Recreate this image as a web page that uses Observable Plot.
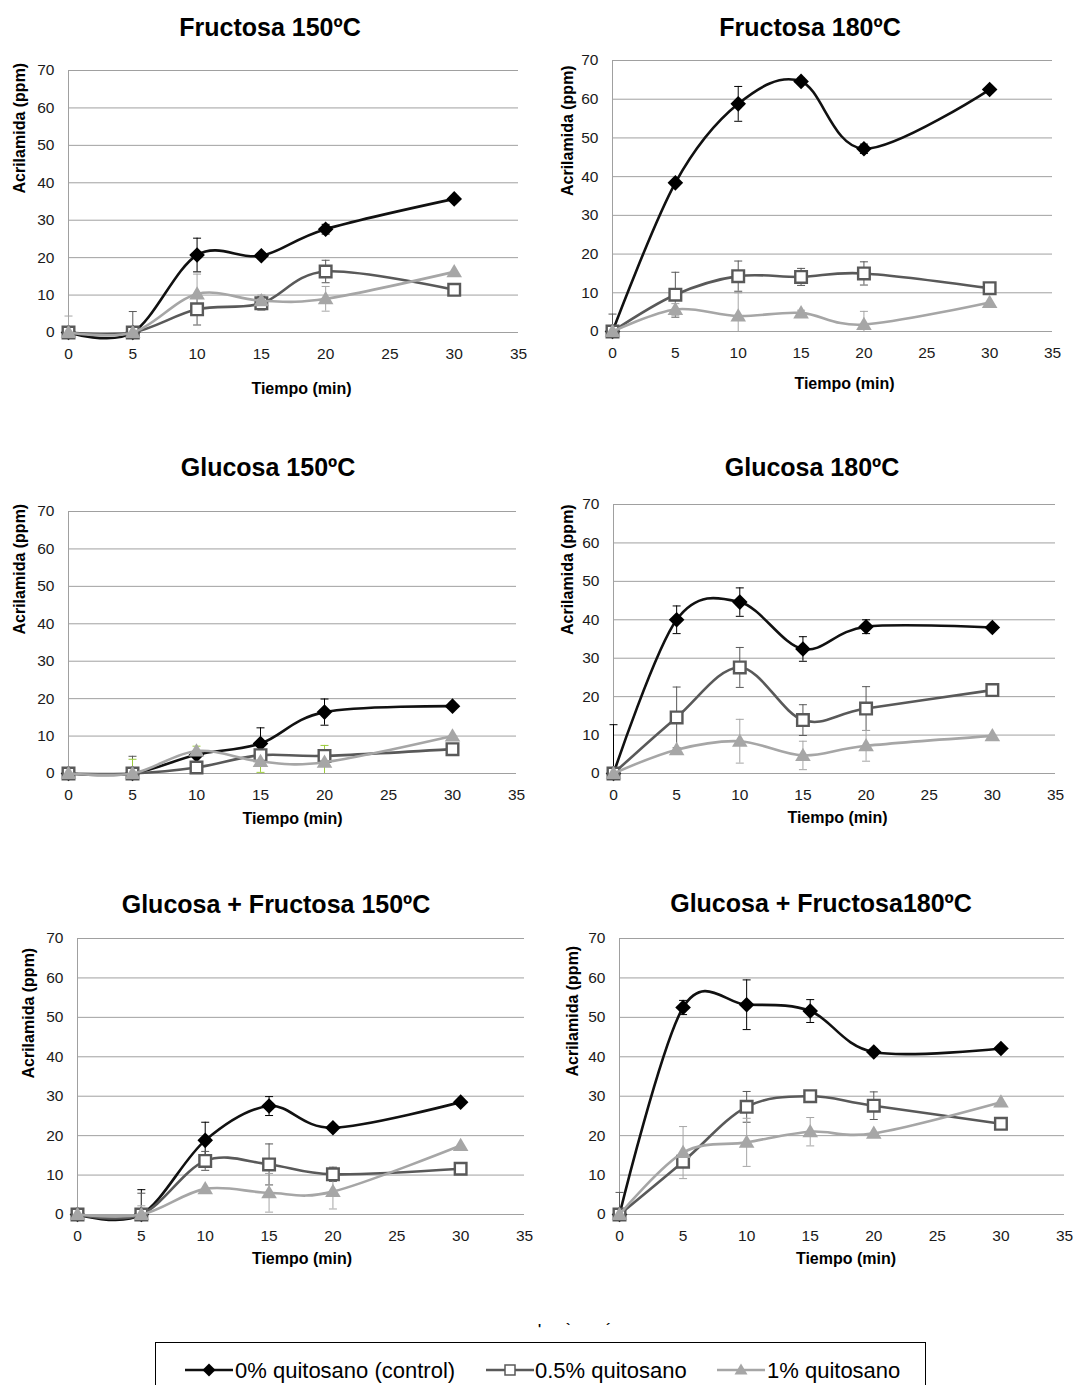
<!DOCTYPE html>
<html><head><meta charset="utf-8">
<script src="https://cdn.jsdelivr.net/npm/d3@7"></script>
<script src="https://cdn.jsdelivr.net/npm/@observablehq/plot@0.6"></script>
<style>
body{margin:0;background:#fff;overflow:hidden}
#root{position:relative;width:1078px;height:1385px;overflow:hidden;font-family:"Liberation Sans",Arial,sans-serif;background:#fff}
.title{position:absolute;width:500px;text-align:center;font-weight:bold;font-size:25px;line-height:30px;color:#000;white-space:nowrap}
.legend{position:absolute;left:155px;top:1342px;width:771px;height:60px;border:1px solid #000;box-sizing:border-box}
.legend .lt{position:absolute;top:15px;font-size:22px;line-height:26px;color:#000;white-space:nowrap}
.legend svg{position:absolute;top:17px}
.frag{position:absolute;top:1321px;font-size:13px;font-weight:bold;color:#000}
</style></head><body><div id="root"></div>
<script>
// ---------- data ----------
const times = [0, 5, 10, 15, 20, 30];
const xTicks = [0, 5, 10, 15, 20, 25, 30, 35];
const yTicks = [0, 10, 20, 30, 40, 50, 60, 70];
const seriesNames = ["0% quitosano (control)", "0.5% quitosano", "1% quitosano"];
const panelTitles = ["Fructosa 150ºC", "Fructosa 180ºC", "Glucosa 150ºC", "Glucosa 180ºC", "Glucosa + Fructosa 150ºC", "Glucosa + Fructosa180ºC"];
const xTitle = "Tiempo (min)";
const yTitle = "Acrilamida (ppm)";

// Fructosa 150
const fru150_c   = [0, 0, 20.7, 20.5, 27.6, 35.7];
const fru150_q05 = [0, 0, 6.2, 7.8, 16.3, 11.4];
const fru150_q1  = [0, 0, 10.3, 8.5, 9.0, 16.2];
const fru150_ec  = [0, 0, 4.5, 0.8, 1.3, 0];
const fru150_e05 = [0, 5.6, 4.2, 1.8, 3.0, 0];
const fru150_e1  = [4.4, 0, 5.3, 1.5, 3.3, 0];
// Fructosa 180
const fru180_c   = [0, 38.4, 58.8, 64.6, 47.2, 62.5];
const fru180_q05 = [0, 9.5, 14.3, 14.1, 15.0, 11.2];
const fru180_q1  = [0, 5.7, 4.0, 4.8, 1.8, 7.5];
const fru180_ec  = [0, 0, 4.5, 0.8, 1.2, 0];
const fru180_e05 = [4.5, 5.8, 3.9, 2.2, 3.0, 0];
const fru180_e1  = [0, 1.5, 6.0, 0.7, 3.4, 0];
// Glucosa 150
const glu150_c   = [0, 0, 5.0, 8.0, 16.4, 18.0];
const glu150_q05 = [0, 0, 1.6, 4.9, 4.7, 6.5];
const glu150_q1  = [0, 0, 6.0, 3.2, 3.0, 10.0];
const glu150_ec  = [0, 0, 0, 4.2, 3.5, 0];
const glu150_e05 = [0, 4.6, 0, 0, 0, 0];
const glu150_e1  = [0, 3.8, 1.3, 2.9, 4.5, 0];
// Glucosa 180
const glu180_c   = [0, 40.0, 44.6, 32.4, 38.2, 38.0];
const glu180_q05 = [0, 14.6, 27.6, 13.9, 16.9, 21.7];
const glu180_q1  = [0, 6.2, 8.4, 4.7, 7.2, 9.8];
const glu180_ec  = [12.7, 3.6, 3.7, 3.2, 1.8, 0];
const glu180_e05 = [0, 7.9, 5.2, 4.0, 5.7, 0];
const glu180_e1  = [0, 0, 5.7, 3.7, 4.0, 0];
// Glucosa + Fructosa 150
const gf150_c   = [0, 0, 18.8, 27.5, 22.0, 28.5];
const gf150_q05 = [0, 0, 13.6, 12.7, 10.2, 11.6];
const gf150_q1  = [0, 0, 6.5, 5.5, 5.8, 17.5];
const gf150_ec  = [0, 6.3, 4.6, 2.4, 0, 0];
const gf150_e05 = [0, 5.4, 2.4, 5.2, 1.8, 0];
const gf150_e1  = [0, 2.2, 0, 4.9, 4.4, 0];
// Glucosa + Fructosa 180
const gf180_c   = [0, 52.5, 53.2, 51.6, 41.2, 42.1];
const gf180_q05 = [0, 13.4, 27.3, 30.0, 27.6, 23.0];
const gf180_q1  = [0, 15.7, 18.3, 21.0, 20.6, 28.5];
const gf180_ec  = [0, 1.8, 6.3, 2.9, 0.8, 0];
const gf180_e05 = [5.6, 0, 3.9, 0, 3.5, 0];
const gf180_e1  = [0, 6.6, 6.1, 3.6, 0, 0];

const panelData = [
  [fru150_c, fru150_q05, fru150_q1, fru150_ec, fru150_e05, fru150_e1],
  [fru180_c, fru180_q05, fru180_q1, fru180_ec, fru180_e05, fru180_e1],
  [glu150_c, glu150_q05, glu150_q1, glu150_ec, glu150_e05, glu150_e1],
  [glu180_c, glu180_q05, glu180_q1, glu180_ec, glu180_e05, glu180_e1],
  [gf150_c, gf150_q05, gf150_q1, gf150_ec, gf150_e05, gf150_e1],
  [gf180_c, gf180_q05, gf180_q1, gf180_ec, gf180_e05, gf180_e1]
];

// ---------- layout (positions only) ----------
const layout = [
  {L:68,  R:518,  T:70,  B:332,  tx:270, ty:27,  ydx:-49, ydy:-8, xdx:8,  xdy:61},
  {L:612, R:1052, T:60,  B:331,  tx:810, ty:27,  ydx:-45, ydy:0,  xdx:12, xdy:57},
  {L:68,  R:516,  T:511, B:773,  tx:268, ty:467, ydx:-49, ydy:-8, xdx:0,  xdy:50},
  {L:613, R:1055, T:504, B:773,  tx:812, ty:467, ydx:-46, ydy:-4, xdx:3,  xdy:49},
  {L:77,  R:524,  T:938, B:1214, tx:276, ty:904, ydx:-49, ydy:2,  xdx:1,  xdy:49},
  {L:619, R:1064, T:938, B:1214, tx:821, ty:903, ydx:-47, ydy:0,  xdx:4,  xdy:49}
];

// ---------- symbols ----------
const diamond = {draw(ctx, size){const r=Math.sqrt(size/Math.PI);ctx.moveTo(0,-r);ctx.lineTo(r,0);ctx.lineTo(0,r);ctx.lineTo(-r,0);ctx.closePath();}};
const square = {draw(ctx, size){const r=Math.sqrt(size/Math.PI);ctx.moveTo(-r,-r);ctx.lineTo(r,-r);ctx.lineTo(r,r);ctx.lineTo(-r,r);ctx.closePath();}};
const triangle = {draw(ctx, size){const r=Math.sqrt(size/Math.PI);ctx.moveTo(0,-r);ctx.lineTo(r,r*0.7);ctx.lineTo(-r,r*0.7);ctx.closePath();}};
const cap = {draw(ctx, size){const r=Math.sqrt(size/Math.PI);ctx.moveTo(-r,0);ctx.lineTo(r,0);}};

const styles = [
  {line:"#111111", sym:diamond, r:7.8, fill:"#000000", stroke:"none", sw:0, err:"#000000"},
  {line:"#595959", sym:square, r:5.8, fill:"#ffffff", stroke:"#595959", sw:2.4, err:"#595959"},
  {line:"#a6a6a6", sym:triangle, r:7.8, fill:"#a6a6a6", stroke:"none", sw:0, err:"#a6a6a6"}
];

const root = document.getElementById("root");
const FONT = "'Liberation Sans', Arial, sans-serif";

panelData.forEach((pd, pi) => {
  const g = layout[pi];
  const mL = 80, mR = 24, mT = 12, mB = 76;
  const marks = [
    Plot.ruleY(yTicks, {stroke:"#a0a0a0", strokeWidth:1}),
    Plot.ruleX([0], {stroke:"#a0a0a0", strokeWidth:1}),
    Plot.axisX(xTicks, {tickSize:0, tickPadding:15, label:null, fontSize:15.5, fill:"#1a1a1a"}),
    Plot.axisY(yTicks, {tickSize:0, tickPadding:14, label:null, fontSize:15.5, fill:"#1a1a1a"}),
    Plot.text([xTitle], {text:d=>d, frameAnchor:"bottom", dx:g.xdx, dy:g.xdy, fontWeight:"bold", fontSize:16, fill:"#000"}),
    Plot.text([yTitle], {text:d=>d, frameAnchor:"left", dx:g.ydx, dy:g.ydy, rotate:-90, fontWeight:"bold", fontSize:16, fill:"#000"})
  ];
  // error bars
  for (let s = 0; s < 3; s++) {
    const vals = pd[s], errs = pd[s+3];
    const ec = (pi === 2 && s === 2) ? "#9ccc3c" : styles[s].err;
    const er = times.map((t,i)=>({t, v:vals[i], e:errs[i]})).filter(d=>d.e>0)
      .map(d=>({t:d.t, lo:Math.max(0, d.v-d.e), hi:d.v+d.e}));
    marks.push(Plot.ruleX(er, {x:"t", y1:"lo", y2:"hi", stroke:ec, strokeWidth:1}));
    marks.push(Plot.dot(er, {x:"t", y:"hi", symbol:cap, r:4, stroke:ec, strokeWidth:1, fill:"none"}));
    marks.push(Plot.dot(er.filter(d=>d.lo>0), {x:"t", y:"lo", symbol:cap, r:4, stroke:ec, strokeWidth:1, fill:"none"}));
  }
  // lines + markers
  for (let s = 0; s < 3; s++) {
    const st = styles[s];
    const rows = times.map((t,i)=>({t, v:pd[s][i]}));
    marks.push(Plot.line(rows, {x:"t", y:"v", stroke:st.line, strokeWidth:2.6, curve:"cardinal", tension:0}));
    marks.push(Plot.dot(rows, {x:"t", y:"v", symbol:st.sym, r:st.r, fill:st.fill, stroke:st.stroke, strokeWidth:st.sw}));
  }
  const svg = Plot.plot({
    width: mL + (g.R - g.L) + mR,
    height: mT + (g.B - g.T) + mB,
    marginLeft: mL, marginRight: mR, marginTop: mT, marginBottom: mB,
    x: {domain:[0,35]},
    y: {domain:[0,70]},
    style: {fontFamily: FONT, fontSize:"15px", color:"#1a1a1a", background:"transparent", overflow:"visible"},
    marks
  });
  svg.style.position = "absolute";
  svg.style.left = (g.L - mL) + "px";
  svg.style.top = (g.T - mT) + "px";
  root.appendChild(svg);

  const t = document.createElement("div");
  t.className = "title";
  t.textContent = panelTitles[pi];
  t.style.left = (g.tx - 250) + "px";
  t.style.top = (g.ty - 15) + "px";
  root.appendChild(t);
});

// fragments above legend
[["'",538],["`",566],["´",606]].forEach(([c,x])=>{
  const f = document.createElement("div"); f.className="frag"; f.textContent=c; f.style.left=x+"px"; root.appendChild(f);
});

// legend
const lg = document.createElement("div");
lg.className = "legend";
const NS = "http://www.w3.org/2000/svg";
const legendPos = [{sw:29, tx:79}, {sw:330, tx:379}, {sw:561, tx:611}];
seriesNames.forEach((name, i) => {
  const st = styles[i];
  const sv = document.createElementNS(NS, "svg");
  sv.setAttribute("width", 48); sv.setAttribute("height", 20);
  sv.style.left = legendPos[i].sw + "px";
  const ln = document.createElementNS(NS, "line");
  ln.setAttribute("x1", 0); ln.setAttribute("x2", 48); ln.setAttribute("y1", 10); ln.setAttribute("y2", 10);
  ln.setAttribute("stroke", st.line); ln.setAttribute("stroke-width", 2.6);
  sv.appendChild(ln);
  const p = document.createElementNS(NS, "path");
  const ctx = d3.path();
  const rr = i === 0 ? 6.5 : i === 1 ? 5 : 6.5;
  st.sym.draw(ctx, rr*rr*Math.PI);
  p.setAttribute("d", ctx.toString());
  p.setAttribute("transform", "translate(24,10)");
  p.setAttribute("fill", st.fill);
  p.setAttribute("stroke", st.stroke);
  p.setAttribute("stroke-width", i === 1 ? 1.5 : 0);
  sv.appendChild(p);
  lg.appendChild(sv);
  const tx = document.createElement("div");
  tx.className = "lt"; tx.textContent = name; tx.style.left = legendPos[i].tx + "px";
  lg.appendChild(tx);
});
root.appendChild(lg);
</script>
</body></html>
